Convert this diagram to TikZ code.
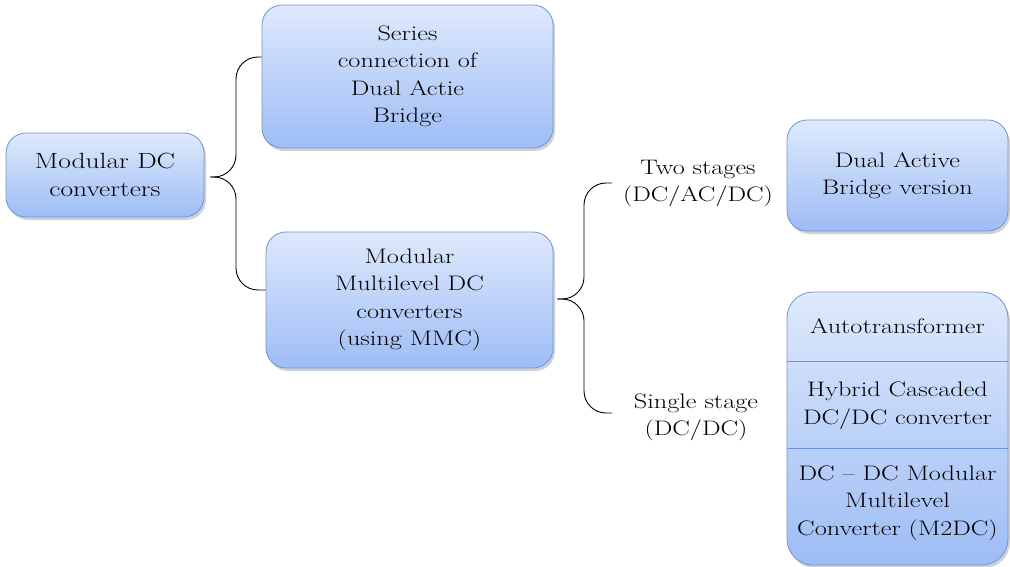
\documentclass[tikz,border=0pt]{standalone}
\usepackage{fontspec}
\setmainfont{Latin Modern Roman}[FakeStretch=1.25]
\usetikzlibrary{shadows,calc}
\definecolor{boxtop}{RGB}{222,233,252}
\definecolor{boxbot}{RGB}{158,189,245}
\definecolor{boxline}{RGB}{110,150,215}
\tikzset{
  bx/.style={draw=boxline, line width=0.8pt, rounded corners=20pt, top color=boxtop, bottom color=boxbot,
     drop shadow={shadow xshift=2pt, shadow yshift=-3pt, opacity=0.3, fill=black!60},
     align=center, inner sep=0pt, font=\fontsize{21}{27.5}\selectfont},
  lbl/.style={align=center, inner sep=0pt, font=\fontsize{21}{27.5}\selectfont},
  brace/.style={draw=black, line width=0.9pt, rounded corners=22pt},
}
\begin{document}
\begin{tikzpicture}[x=1pt,y=-1pt]
\useasboundingbox (0,0) rectangle (1010,567);
% boxes
\node[bx, minimum width=198pt, minimum height=84pt, font=\fontsize{22}{27.5}\selectfont] (mdc) at (105,175) {Modular DC\\converters};
\node[bx, minimum width=291pt, minimum height=143pt] (ser) at (407.5,76.5) {Series\\connection of\\Dual Actie\\Bridge};
\node[bx, minimum width=287pt, minimum height=136pt] (mmc) at (409.5,300) {Modular\\Multilevel DC\\converters\\(using MMC)};
\node[bx, minimum width=221pt, minimum height=111pt] (dab) at (897.5,175.5) {Dual Active\\Bridge version};
\node[bx, minimum width=221pt, minimum height=273pt, rounded corners=26pt] (stk) at (897.5,428.5) {};
\coordinate (d1) at (787,361);
\coordinate (d2) at (787,448);
\draw[boxline, line width=0.8pt] (d1) -- (d1 -| stk.east);
\draw[boxline, line width=0.8pt] (d2) -- (d2 -| stk.east);
\node[lbl] (auto) at (897.5,326) {Autotransformer};
\node[lbl] (hyb) at (897.5,406) {Hybrid Cascaded\\DC/DC converter};
\node[lbl] (m2dc) at (897.5,503) {DC -- DC Modular\\Multilevel\\Converter (M2DC)};
% labels
\node[lbl] (two) at (698,183.5) {Two stages\\(DC/AC/DC)};
\node[lbl] (one) at (696,417.5) {Single stage\\(DC/DC)};
% braces
\coordinate (t1) at ($(mdc.east)+(6,2)$);
\coordinate (t2) at ($(mmc.east)+(4,-1)$);
\draw[brace] (ser.west |- 0,57) -- (236,57) -- (236,177) -- (t1);
\draw[brace] (mmc.west |- 0,290) -- (236,290) -- (236,177) -- (t1);
\draw[brace] (612,183) -- (584,183) -- (584,299) -- (t2);
\draw[brace] (612,413) -- (584,413) -- (584,299) -- (t2);
\end{tikzpicture}
\end{document}
